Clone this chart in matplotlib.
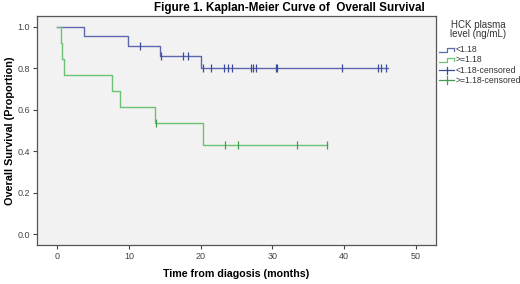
import numpy as np
import matplotlib
matplotlib.use("Agg")
import matplotlib.pyplot as plt
from matplotlib.lines import Line2D

plt.rcParams['font.family'] = ['Liberation Sans', 'DejaVu Sans']

# ---- data ----
low_times = [0, 3.7, 9.9, 14.4, 20.0]
low_surv = [1.0, 0.955, 0.909, 0.861, 0.803]
low_end = 46.1
low_censor = [11.6, 14.5, 17.5, 18.3, 20.3, 21.5, 23.2, 23.8, 24.4, 27.0, 27.3, 27.7,
              30.5, 30.7, 39.7, 44.7, 45.2, 45.8]

high_times = [0, 0.5, 0.7, 0.9, 7.7, 8.8, 13.7, 20.3]
high_surv = [1.0, 0.923, 0.846, 0.769, 0.692, 0.615, 0.538, 0.431]
high_end = 37.6
high_censor = [13.8, 23.4, 25.2, 33.5, 37.6]

x_ticks = [0, 10, 20, 30, 40, 50]
y_ticks = [0.0, 0.2, 0.4, 0.6, 0.8, 1.0]
legend_labels = ["<1.18", ">=1.18", "<1.18-censored", ">=1.18-censored"]

blue = "#5c68b0"
blue_d = "#3d4b9c"
green = "#6cc274"
green_d = "#3f9f4c"

fig = plt.figure(figsize=(5.2, 2.84), dpi=100)
ax = fig.add_axes([37/520, 1-245/284, (436-37)/520, (245-16)/284])
ax.set_facecolor("#f2f2f2")


def surv_at(times, surv, t):
    i = np.searchsorted(times, t, side="right") - 1
    return np.asarray(surv)[i]


for times, surv, end, cens, c, cd in [
    (low_times, low_surv, low_end, low_censor, blue, blue_d),
    (high_times, high_surv, high_end, high_censor, green, green_d),
]:
    xs = list(times) + [end]
    ys = list(surv) + [surv[-1]]
    ax.step(xs, ys, where="post", color=c, lw=1.0)
    cy = [surv_at(times, surv, t) for t in cens]
    ax.plot(cens, cy, ls="none", marker="|", ms=6, mew=0.9, color=cd)

ax.set_xlim(-2.8, 52.8)
ax.set_ylim(-0.053, 1.053)
ax.set_xticks(x_ticks)
ax.set_yticks(y_ticks)
ax.set_yticklabels([f"{v:.1f}" for v in y_ticks])
ax.tick_params(labelsize=6.5, length=3, width=0.8, colors="#444444", pad=2)
for s in ax.spines.values():
    s.set_color("#555555")
    s.set_linewidth(0.9)

ax.set_xlabel("Time from diagosis (months)", fontsize=7.7, fontweight="bold", labelpad=6)
ax.set_ylabel("Overall Survival (Proportion)", fontsize=7.8, fontweight="bold", labelpad=1.5)

fig.text(289/520, 1-8/284, "Figure 1. Kaplan-Meier Curve of  Overall Survival",
         ha="center", va="center", fontsize=8.4, fontweight="bold")

# legend drawn manually
W, H = 520, 284
fig.text(478/W, 1-25/H, "HCK plasma", ha="center", va="center", fontsize=7, color="#333333")
fig.text(478/W, 1-34/H, "level (ng/mL)", ha="center", va="center", fontsize=7, color="#333333")
ys_leg = [50, 60, 70.5, 80]
for k, (lab, yy) in enumerate(zip(legend_labels, ys_leg)):
    c = [blue, green, blue_d, green_d][k]
    if k < 2:
        xs = np.array([439, 447, 447, 454]) / W
        yv = 1 - np.array([yy + 2, yy + 2, yy - 2, yy - 2]) / H
        fig.add_artist(Line2D(xs, yv, color=c, lw=0.9))
        fig.add_artist(Line2D([454/W, 454/W], [1-(yy-2)/H, 1-(yy+1)/H], color=c, lw=0.9))
    else:
        fig.add_artist(Line2D([439/W, 454/W], [1-yy/H, 1-yy/H], color=c, lw=0.9))
        fig.add_artist(Line2D([446.5/W, 446.5/W], [1-(yy-4)/H, 1-(yy+4)/H], color=c, lw=0.9))
    fig.text(456/W, 1-yy/H, lab, ha="left", va="center", fontsize=6.2, color="#333333")

fig.savefig("out.png", dpi=100, facecolor="white")
